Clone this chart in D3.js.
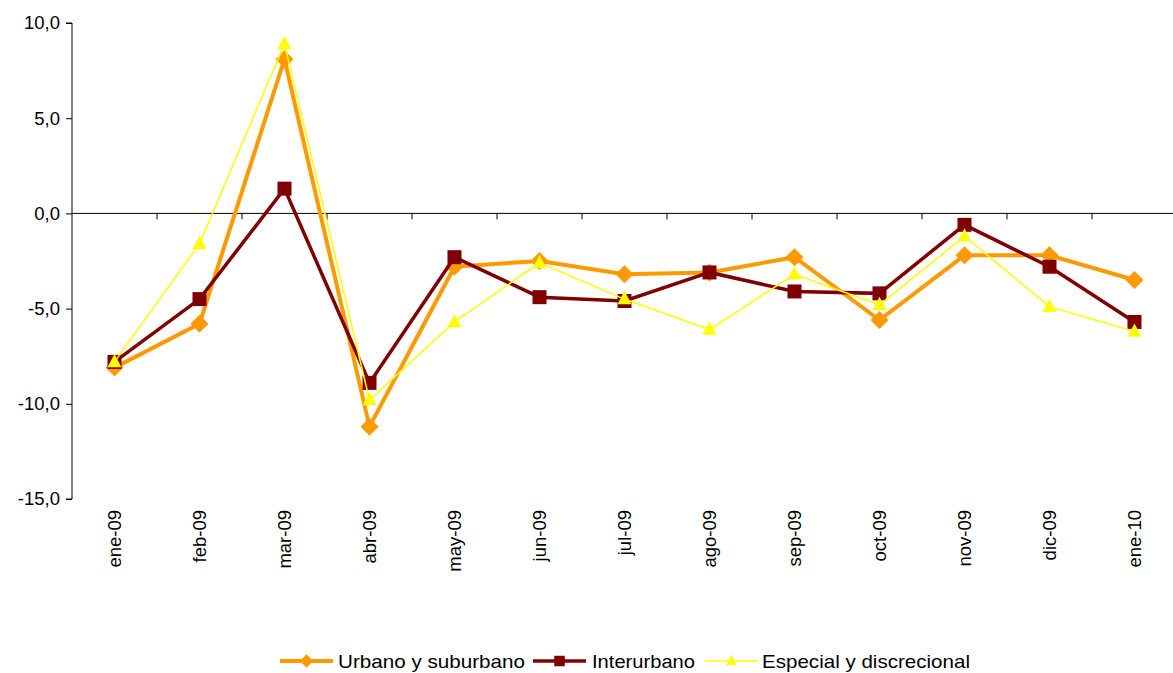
<!DOCTYPE html>
<html><head><meta charset="utf-8">
<script src="https://cdn.jsdelivr.net/npm/d3@7"></script>
<style>body{margin:0;background:#fff;}svg{display:block;font-family:"Liberation Sans",Arial,sans-serif;}</style>
</head><body>
<svg id="c" width="1173" height="673"></svg>
<script>
const categories = ["ene-09","feb-09","mar-09","abr-09","may-09","jun-09","jul-09","ago-09","sep-09","oct-09","nov-09","dic-09","ene-10"];
const urbano = [-8.1,-5.8,8.1,-11.2,-2.8,-2.5,-3.2,-3.1,-2.3,-5.6,-2.2,-2.2,-3.5];
const interurbano = [-7.8,-4.5,1.3,-8.9,-2.3,-4.4,-4.6,-3.1,-4.1,-4.2,-0.6,-2.8,-5.7];
const especial = [-7.8,-1.6,8.9,-9.8,-5.7,-2.6,-4.5,-6.1,-3.2,-4.8,-1.2,-4.9,-6.2];
const yTicks = [10,5,0,-5,-10,-15];
const seriesNames = ["Urbano y suburbano","Interurbano","Especial y discrecional"];

const series = [
  {name:seriesNames[0], values:urbano, color:"#FF9900", width:4, marker:"diamond"},
  {name:seriesNames[1], values:interurbano, color:"#800000", width:3.5, marker:"square"},
  {name:seriesNames[2], values:especial, color:"#FFFF00", width:1.5, marker:"triangle"}
];

const svg = d3.select("#c");
const x = d3.scaleBand().domain(categories).range([72, 72+13*85]);
const y = d3.scaleLinear().domain([-15,10]).range([499,23]);

// y axis
const ya = svg.append("g").attr("transform","translate(72,0)")
  .call(d3.axisLeft(y).tickValues(yTicks).tickSize(6).tickPadding(6).tickFormat(d=>d3.format(".1f")(d).replace(".",",").replace("−","-")));
ya.select(".domain").attr("stroke","#000").attr("d",`M-6,${y(10)}H0V${y(-15)}H-6`);
ya.selectAll("line").attr("stroke","#000");
ya.selectAll("text").attr("font-size",18.5).attr("fill","#000").attr("font-family","Liberation Sans, Arial, sans-serif");

// zero line with ticks at band boundaries
const xa = svg.append("g").attr("transform",`translate(0,${y(0)})`);
xa.append("line").attr("x1",72).attr("x2",1173).attr("stroke","#000").attr("stroke-width",1);
const bounds = categories.slice(1).map(c=>x(c));
xa.selectAll("line.t").data(bounds).enter().append("line").attr("class","t")
  .attr("x1",d=>d).attr("x2",d=>d).attr("y1",0).attr("y2",6).attr("stroke","#000");

// x labels at bottom
svg.append("g").selectAll("text").data(categories).enter().append("text")
  .attr("transform",d=>`translate(${x(d)+x.bandwidth()/2+6.5},510) rotate(-90)`)
  .attr("text-anchor","end").attr("font-size",18.5).attr("fill","#000").text(d=>d);

const cx = d=>x(d)+x.bandwidth()/2;
const line = d3.line().x((v,i)=>cx(categories[i])).y(v=>y(v));

function marker(g, type, color, px, py, scale=1){
  if(type==="diamond"){
    const s=9*scale;
    g.append("path").attr("d",`M${px},${py-s}L${px+s},${py}L${px},${py+s}L${px-s},${py}Z`).attr("fill",color);
  } else if(type==="square"){
    const s=7*scale;
    g.append("rect").attr("x",px-s).attr("y",py-s).attr("width",2*s).attr("height",2*s).attr("fill",color);
  } else {
    const s=7*scale;
    g.append("path").attr("d",`M${px},${py-s-1}L${px+s},${py+s*0.75}L${px-s},${py+s*0.75}Z`).attr("fill",color);
  }
}

series.forEach(s=>{
  const g = svg.append("g");
  g.append("path").attr("d",line(s.values)).attr("fill","none").attr("stroke",s.color).attr("stroke-width",s.width).attr("stroke-linejoin","miter");
  s.values.forEach((v,i)=>marker(g,s.marker,s.color,cx(categories[i]),y(v)));
});

// legend
const legendPos = [{lx:280, tx:338, tw:187},{lx:533, tx:592, tw:103},{lx:705, tx:762, tw:208}];
series.forEach((s,i)=>{
  const g = svg.append("g");
  const p = legendPos[i];
  g.append("line").attr("x1",p.lx).attr("x2",p.lx+53).attr("y1",661).attr("y2",661).attr("stroke",s.color).attr("stroke-width",s.width);
  marker(g,s.marker,s.color,p.lx+26.5,661,0.75);
  g.append("text").attr("x",p.tx).attr("y",668).attr("font-size",19).attr("fill","#000")
    .attr("textLength",p.tw).attr("lengthAdjust","spacingAndGlyphs").text(s.name);
});
</script>
</body></html>
